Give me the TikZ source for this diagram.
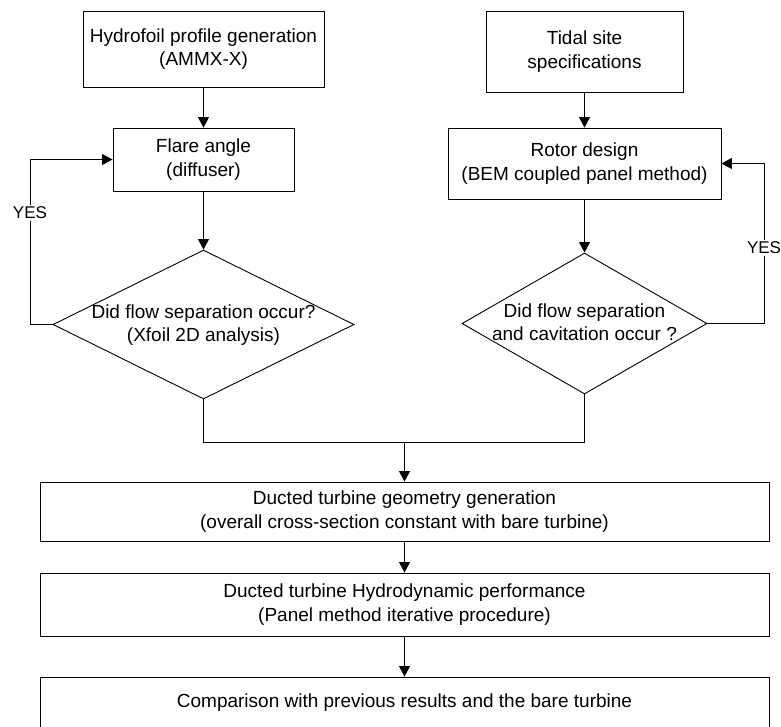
\documentclass[tikz,border=0pt]{standalone}
\usepackage{fontspec}
\setmainfont{Liberation Sans}
\usetikzlibrary{arrows.meta,shapes.geometric}
\tikzset{
  box/.style={draw, line width=0.9pt, inner sep=0pt, align=center, font=\fontsize{19}{23.5}\selectfont},
  dec/.style={draw, diamond, line width=0.9pt, inner sep=0pt, aspect=2},
  dectext/.style={align=center, font=\fontsize{19}{23}\selectfont, inner sep=0pt},
  conn/.style={line width=0.9pt},
  arr/.style={conn, -{Triangle[length=10.5pt,width=11pt]}},
  yes/.style={fill=white, inner sep=1.5pt, font=\fontsize{17}{20}\selectfont}
}
\begin{document}
\begin{tikzpicture}[x=1pt,y=-1pt]
\clip (0,0) rectangle (781,726);
% boxes
\node[box, minimum width=241pt, minimum height=76pt] (b1) at (203.5,49) {Hydrofoil profile generation\\(AMMX-X)};
\node[box, minimum width=181pt, minimum height=63pt] (b2) at (203.5,159.5) {Flare angle\\(diffuser)};
\node[box, minimum width=197pt, minimum height=81pt] (b3) at (584.5,51.5) {Tidal site\\specifications};
\node[box, minimum width=273pt, minimum height=71pt] (b4) at (584.5,163.5) {Rotor design\\(BEM coupled panel method)};
% decisions
\node[dec, minimum width=301pt, minimum height=149pt] (d1) at (203.5,324.5) {};
\node[dectext] (t1) at (203.5,325.5) {Did flow separation occur?\\(Xfoil 2D analysis)};
\node[dec, minimum width=245pt, minimum height=141pt] (d2) at (584.5,323.5) {};
\node[dectext] (t2) at (584.5,322.5) {Did flow separation\\and cavitation occur ?};
% lower boxes
\node[box, minimum width=729pt, minimum height=59pt] (b5) at (404.5,511.5) {Ducted turbine geometry generation\\(overall cross-section constant with bare turbine)};
\node[box, minimum width=729pt, minimum height=63pt] (b6) at (404.5,604.5) {Ducted turbine Hydrodynamic performance\\(Panel method iterative procedure)};
\node[box, minimum width=729pt, minimum height=52pt] (b7) at (404.5,703) {Comparison with previous results and the bare turbine};
% coordinates
\coordinate (merge) at (404.5,442);
\coordinate (loopL) at (30,213);
\coordinate (loopR) at (764,248);
% connectors
\draw[arr] (b1) -- (b2);
\draw[arr] (b2) -- (d1);
\draw[arr] (b3) -- (b4);
\draw[arr] (b4) -- (d2);
\draw[arr] (d1.west) -- (loopL |- d1.west) |- (b2.west);
\draw[arr] (d2.east) -- (loopR |- d2.east) |- (b4.east);
\draw[conn] (d1.south) |- (d2.south |- merge) -- (d2.south);
\draw[arr] (merge) -- (b5);
\draw[arr] (b5) -- (b6);
\draw[arr] (b6) -- (b7);
% labels
\node[yes] (yesL) at (loopL) {YES};
\node[yes] (yesR) at (loopR) {YES};
\end{tikzpicture}
\end{document}
